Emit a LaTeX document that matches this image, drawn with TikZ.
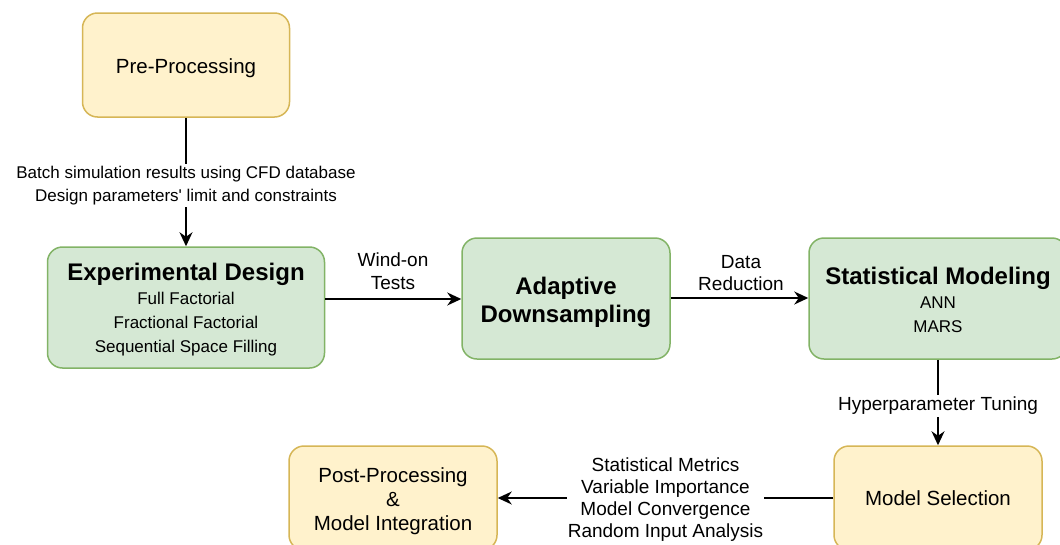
\documentclass[tikz,border=0pt]{standalone}
\usepackage{fontspec}
\setmainfont{Liberation Sans}
\newfontfamily\plainfont{Liberation Sans}
\usetikzlibrary{arrows.meta}
\definecolor{yfill}{HTML}{FFF2CC}
\definecolor{ydraw}{HTML}{D6B656}
\definecolor{gfill}{HTML}{D5E8D4}
\definecolor{gdraw}{HTML}{82B366}
\newcommand{\topstrut}[1]{\rule{0pt}{#1pt}}
\begin{document}
\begin{tikzpicture}[x=1pt,y=-1pt,
  box/.style={draw, line width=1.5pt, rounded corners=15pt, inner sep=0pt, align=center, text=black},
  ybox/.style={box, draw=ydraw, fill=yfill, font=\fontsize{20.5}{24}\selectfont},
  gbox/.style={box, draw=gdraw, fill=gfill, font=\fontsize{17}{24}\selectfont},
  lbl/.style={fill=white, inner sep=2pt, align=center, font=\fontsize{17}{22}\selectfont},
  lblb/.style={fill=white, inner sep=2pt, align=center, font=\fontsize{19}{22}\selectfont},
  free/.style={align=center, inner sep=0pt},
  arr/.style={line width=1.7pt, -{Stealth[length=14pt,width=13pt,inset=4.5pt]}}
]
\useasboundingbox (0,0) rectangle (1060,544);
\begin{scope}
\clip (0,0) rectangle (1060,544);
\node[ybox, minimum width=207, minimum height=104] (pre) at (186,65) {\topstrut{21}Pre-Processing};
\node[gbox, minimum width=277, minimum height=121] (exp) at (186,307.5) {{\fontsize{24}{24}\selectfont\bfseries\topstrut{22.5}Experimental Design}\\Full Factorial\\Fractional Factorial\\Sequential Space Filling};
\node[gbox, minimum width=208, minimum height=121, font=\fontsize{24}{28}\selectfont\bfseries] (ada) at (566,298.5) {\topstrut{25.5}Adaptive\\Downsampling};
\node[gbox, minimum width=258, minimum height=121] (sta) at (938,298.5) {{\fontsize{24}{24}\selectfont\bfseries\topstrut{19.5}Statistical Modeling}\\ANN\\MARS};
\node[ybox, minimum width=208, minimum height=104] (sel) at (938,498) {Model Selection};
\node[ybox, minimum width=208, minimum height=104] (post) at (393,498) {\topstrut{21}Post-Processing\\\&\\Model Integration};

\draw[arr] (pre) -- node[lbl, yshift=-3.6pt] (l1) {Batch simulation results using CFD database\\[0.5pt]Design parameters{\plainfont'} limit and constraints} (exp);
\draw[arr] (exp.east |- 0,299) -- (ada.west |- 0,299);
\node[free, font=\fontsize{19}{23}\selectfont] (l2) at (393,271.5) {Wind-on\\Tests};
\draw[arr] (ada.east |- 0,298) -- (sta.west |- 0,298);
\node[free, font=\fontsize{19}{22}\selectfont] (l3) at (741,273) {Data\\Reduction};
\draw[arr] (sta) -- node[lblb, yshift=-3.5pt] (l4) {Hyperparameter Tuning} (sel);
\draw[arr] (sel) -- node[lblb, inner xsep=1pt, yshift=-2pt] (l5) {Statistical Metrics\\Variable Importance\\Model Convergence\\Random Input Analysis} (post);
\end{scope}
\end{tikzpicture}
\end{document}
